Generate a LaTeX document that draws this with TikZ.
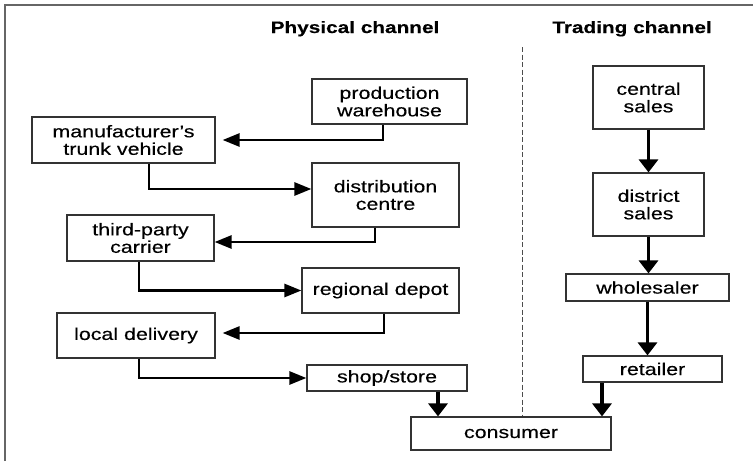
\documentclass[tikz,border=0pt]{standalone}
\usepackage{fontspec}
\setmainfont{Liberation Sans}[FakeStretch=1.26,FakeBold=0.35]
\usetikzlibrary{arrows.meta}
\begin{document}
\begin{tikzpicture}[x=1pt,y=-1pt,
  box/.style={draw=black!80,line width=1.2pt,rectangle,inner sep=0pt,
    align=center,text=black,font=\fontsize{17}{17.5}\selectfont},
  title/.style={anchor=base,font=\fontsize{16.5}{18}\selectfont\bfseries,text=black},
  harr/.style={line width=2.7pt,draw=black,
    -{Triangle[length=17pt,width=13pt]}},
  varr/.style={line width=3.4pt,draw=black,
    -{Triangle[length=13pt,width=19pt]}},
  divider/.style={draw=black!70,line width=0.9pt,dash pattern=on 5pt off 2.5pt},
  frame/.style={draw=black!60,line width=1.3pt}]
\useasboundingbox (0,0) rectangle (753,461);

% frame edges
\draw[frame] (5,461) -- (5,5) -- (753,5);

% column headings
\node[title] (phys) at (355,33) {Physical channel};
\node[title] (trad) at (632,33) {Trading channel};

% divider between the channels
\coordinate (dtop) at (522,47);
\coordinate (dbot) at (522,416);
\draw[divider] (dtop) -- (dbot);

% physical channel
\node[box,minimum width=155pt,minimum height=45pt] (prod) at (389.5,101.5) {production\\warehouse};
\node[box,minimum width=183pt,minimum height=46pt] (manu) at (123.5,140) {manufacturer’s\\trunk vehicle};
\node[box,minimum width=147pt,minimum height=64pt] (dist) at (385.5,195) {distribution\\centre};
\node[box,minimum width=147pt,minimum height=46pt] (third) at (140.5,238) {third-party\\carrier};
\node[box,minimum width=157pt,minimum height=45pt] (regional) at (380.5,290.5) {regional depot};
\node[box,minimum width=158pt,minimum height=45pt] (local) at (136,335.5) {local delivery};
\node[box,minimum width=160pt,minimum height=26pt] (shop) at (387,378) {shop/store};
\node[box,minimum width=200pt,minimum height=33pt] (consumer) at (511,433.5) {consumer};

% trading channel
\node[box,minimum width=111pt,minimum height=63pt] (central) at (648.5,97.5) {central\\sales};
\node[box,minimum width=111pt,minimum height=63pt] (district) at (648.5,204.5) {district\\sales};
\node[box,minimum width=163pt,minimum height=27pt] (wholesaler) at (647.5,287.5) {wholesaler};
\node[box,minimum width=139pt,minimum height=26pt] (retailer) at (652.5,369) {retailer};

% physical flow
\draw[harr,shorten >=7pt] ([xshift=-6.5pt]prod.south) |- (manu.east);
\draw[harr] ([xshift=25.5pt]manu.south) |- ([yshift=6pt]dist.west);
\draw[harr] ([xshift=-10.5pt]dist.south) |- ([yshift=-4pt]third.east);
\draw[harr] ([xshift=-1.5pt]third.south) |- (regional.west);
\draw[harr,shorten >=7pt] ([xshift=3.5pt]regional.south) |- ([yshift=2.5pt]local.east);
\draw[harr] ([xshift=3pt]local.south) |- (shop.west);
\coordinate (s1) at ([xshift=51pt]shop.south);
\draw[varr] (s1) -- (s1 |- consumer.north);

% trading flow
\draw[varr] (central.south) -- (central.south |- district.north);
\draw[varr] (district.south) -- (district.south |- wholesaler.north);
\draw[varr] (wholesaler.south) -- (wholesaler.south |- retailer.north);
\coordinate (r1) at ([xshift=-50.5pt]retailer.south);
\draw[varr] (r1) -- (r1 |- consumer.north);
\end{tikzpicture}
\end{document}
